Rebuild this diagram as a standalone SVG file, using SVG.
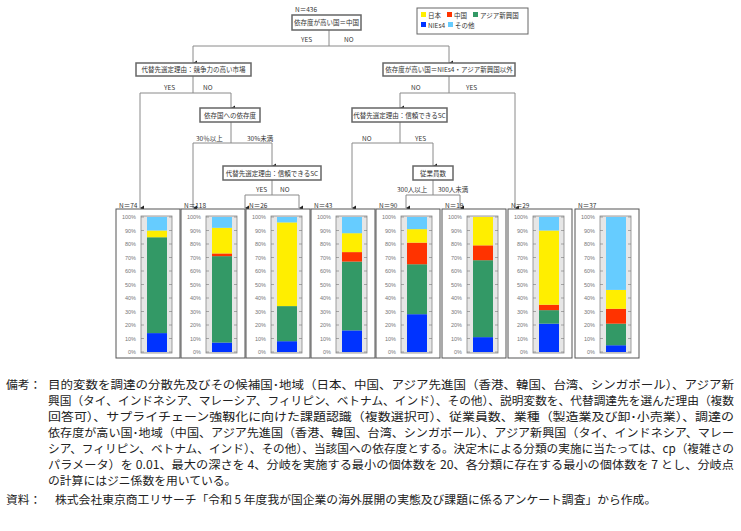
<svg xmlns="http://www.w3.org/2000/svg" xmlns:xlink="http://www.w3.org/1999/xlink" width="741" height="531" viewBox="0 0 741 531">
<style>
.t{font-family:"Noto Sans CJK JP","Liberation Sans",sans-serif;fill:#333}
.s{font-size:6.5px}
.box{fill:#fff;stroke:#666;stroke-width:1.5}
.ln{fill:none;stroke:#8a8a8a;stroke-width:1}
.pan{fill:#fff;stroke:#555;stroke-width:1}
.ax{font-family:"Liberation Sans",sans-serif;font-size:5.5px;fill:#777;text-anchor:end}
.y{fill:#ffee00}.r{fill:#ff3300}.g{fill:#339966}.b{fill:#0033ff}.l{fill:#66ccff}
.note{font-family:"Noto Sans CJK JP",sans-serif;font-size:11.8px;fill:#222}
</style>
<defs>
<marker id="ar" markerWidth="6" markerHeight="6" refX="3" refY="5" orient="auto" markerUnits="userSpaceOnUse"><path d="M0.5,1 L5.5,1 L3,5 Z" fill="#222"/></marker>
<g id="axis">
<rect x="0" y="0" width="64" height="149" class="pan"/>
<rect x="25" y="7" width="31" height="137" fill="#e6e6e6" stroke="#888" stroke-width="0.8"/>
<path d="M25,8 h3 M25,21.5 h3 M25,35 h3 M25,48.5 h3 M25,62 h3 M25,75.5 h3 M25,89 h3 M25,102.5 h3 M25,116 h3 M25,129.5 h3 M25,143 h3 M53,8 h3 M53,21.5 h3 M53,35 h3 M53,48.5 h3 M53,62 h3 M53,75.5 h3 M53,89 h3 M53,102.5 h3 M53,116 h3 M53,129.5 h3 M53,143 h3" stroke="#777" stroke-width="0.6"/>
<text class="ax" x="20" y="10">100%</text><text class="ax" x="20" y="23.5">90%</text><text class="ax" x="20" y="37">80%</text><text class="ax" x="20" y="50.5">70%</text><text class="ax" x="20" y="64">60%</text><text class="ax" x="20" y="77.5">50%</text><text class="ax" x="20" y="91">40%</text><text class="ax" x="20" y="104.5">30%</text><text class="ax" x="20" y="118">20%</text><text class="ax" x="20" y="131.5">10%</text><text class="ax" x="20" y="145">0%</text>
</g>
</defs>
<rect width="741" height="531" fill="#fff"/>

<g id="legend">
<rect x="417" y="8" width="111" height="26" fill="#fff" stroke="#666" stroke-width="1"/>
<rect x="421" y="12" width="5" height="5" class="y"/><text class="t s" x="428" y="18">日本</text>
<rect x="447" y="12" width="5" height="5" class="r"/><text class="t s" x="454" y="18">中国</text>
<rect x="473" y="12" width="5" height="5" class="g"/><text class="t s" x="480" y="18">アジア新興国</text>
<rect x="421" y="22" width="5" height="5" class="b"/><text class="t s" x="428" y="28">NIEs4</text>
<rect x="448" y="22" width="5" height="5" class="l"/><text class="t s" x="455" y="28">その他</text>
</g>

<g id="connectors">
<path class="ln" d="M329,30 V46 M193,46 H449"/>
<path class="ln" d="M193,46 V63" marker-end="url(#ar)"/>
<path class="ln" d="M449,46 V63" marker-end="url(#ar)"/>
<path class="ln" d="M193,76 V93 M140,93 H231"/>
<path class="ln" d="M140,93 V208" marker-end="url(#ar)"/>
<path class="ln" d="M231,93 V108" marker-end="url(#ar)"/>
<path class="ln" d="M231,122 V143 M193,143 H272"/>
<path class="ln" d="M193,143 V208" marker-end="url(#ar)"/>
<path class="ln" d="M272,143 V166" marker-end="url(#ar)"/>
<path class="ln" d="M272,180 V195 M245,195 H299"/>
<path class="ln" d="M245,195 V208" marker-end="url(#ar)"/>
<path class="ln" d="M299,195 V208" marker-end="url(#ar)"/>
<path class="ln" d="M449,76 V93 M400,93 H515"/>
<path class="ln" d="M515,93 V208" marker-end="url(#ar)"/>
<path class="ln" d="M400,93 V108" marker-end="url(#ar)"/>
<path class="ln" d="M400,122 V143 M352,143 H433"/>
<path class="ln" d="M352,143 V208" marker-end="url(#ar)"/>
<path class="ln" d="M433,143 V166" marker-end="url(#ar)"/>
<path class="ln" d="M433,180 V195 M406,195 H460"/>
<path class="ln" d="M406,195 V208" marker-end="url(#ar)"/>
<path class="ln" d="M460,195 V208" marker-end="url(#ar)"/>
<g class="t s">
<text x="301" y="42">YES</text><text x="344" y="42">NO</text>
<text x="164" y="90">YES</text><text x="203" y="90">NO</text>
<text x="196" y="141">30％以上</text><text x="247" y="141">30%未満</text>
<text x="256" y="192">YES</text><text x="280" y="192">NO</text>
<text x="411" y="90">NO</text><text x="466" y="90">YES</text>
<text x="362" y="141">NO</text><text x="415" y="141">YES</text>
<text x="397" y="192">300人以上</text><text x="438" y="192">300人未満</text>
</g>
</g>

<g id="n-root"><text class="t s" x="295" y="12">N＝436</text><rect class="box" x="292" y="15" width="69" height="15"/><text class="t s" x="326.5" y="25" text-anchor="middle">依存度が高い国＝中国</text></g>
<g id="n-left"><rect class="box" x="136" y="63" width="115" height="13"/><text class="t s" x="193.5" y="72" text-anchor="middle">代替先選定理由：競争力の高い市場</text></g>
<g id="n-right"><rect class="box" x="383" y="63" width="132" height="13"/><text class="t s" x="449" y="72" text-anchor="middle">依存度が高い国＝NIEs4・アジア新興国以外</text></g>
<g id="n-dep"><rect class="box" x="200" y="108" width="60" height="14"/><text class="t s" x="230" y="117.5" text-anchor="middle">依存国への依存度</text></g>
<g id="n-sc1"><rect class="box" x="223" y="166" width="98" height="14"/><text class="t s" x="272" y="175.5" text-anchor="middle">代替先選定理由：信頼できるSC</text></g>
<g id="n-sc2"><rect class="box" x="352" y="108" width="95" height="14"/><text class="t s" x="399.5" y="117.5" text-anchor="middle">代替先選定理由：信頼できるSC</text></g>
<g id="n-emp"><rect class="box" x="413" y="166" width="40" height="14"/><text class="t s" x="433" y="175.5" text-anchor="middle">従業員数</text></g>

<g id="p1" transform="translate(116,209)"><use xlink:href="#axis"/><text class="t s" x="3" y="-1">N＝74</text>
<rect x="31" y="124.1" width="20" height="18.9" class="b"/><rect x="31" y="28.25" width="20" height="95.85" class="g"/><rect x="31" y="21.5" width="20" height="6.75" class="y"/><rect x="31" y="8" width="20" height="13.5" class="l"/></g>
<g id="p2" transform="translate(181,209)"><use xlink:href="#axis"/><text class="t s" x="3" y="-1">N＝118</text>
<rect x="31" y="133.55" width="20" height="9.45" class="b"/><rect x="31" y="47.15" width="20" height="86.4" class="g"/><rect x="31" y="44.45" width="20" height="2.7" class="r"/><rect x="31" y="18.8" width="20" height="25.65" class="y"/><rect x="31" y="8" width="20" height="10.8" class="l"/></g>
<g id="p3" transform="translate(246,209)"><use xlink:href="#axis"/><text class="t s" x="3" y="-1">N＝26</text>
<rect x="31" y="132.2" width="20" height="10.8" class="b"/><rect x="31" y="97.1" width="20" height="35.1" class="g"/><rect x="31" y="13.4" width="20" height="83.7" class="y"/><rect x="31" y="8" width="20" height="5.4" class="l"/></g>
<g id="p4" transform="translate(311,209)"><use xlink:href="#axis"/><text class="t s" x="3" y="-1">N＝43</text>
<rect x="31" y="121.4" width="20" height="21.6" class="b"/><rect x="31" y="52.55" width="20" height="68.85" class="g"/><rect x="31" y="43.1" width="20" height="9.45" class="r"/><rect x="31" y="24.2" width="20" height="18.9" class="y"/><rect x="31" y="8" width="20" height="16.2" class="l"/></g>
<g id="p5" transform="translate(376,209)"><use xlink:href="#axis"/><text class="t s" x="3" y="-1">N＝90</text>
<rect x="31" y="105.2" width="20" height="37.8" class="b"/><rect x="31" y="55.25" width="20" height="49.95" class="g"/><rect x="31" y="33.65" width="20" height="21.6" class="r"/><rect x="31" y="20.15" width="20" height="13.5" class="y"/><rect x="31" y="8" width="20" height="12.15" class="l"/></g>
<g id="p6" transform="translate(442,209)"><use xlink:href="#axis"/><text class="t s" x="3" y="-1">N＝19</text>
<rect x="31" y="128.15" width="20" height="14.85" class="b"/><rect x="31" y="51.2" width="20" height="76.95" class="g"/><rect x="31" y="36.35" width="20" height="14.85" class="r"/><rect x="31" y="8" width="20" height="28.35" class="y"/></g>
<g id="p7" transform="translate(508,209)"><use xlink:href="#axis"/><text class="t s" x="3" y="-1">N＝29</text>
<rect x="31" y="114.65" width="20" height="28.35" class="b"/><rect x="31" y="101.15" width="20" height="13.5" class="g"/><rect x="31" y="95.75" width="20" height="5.4" class="r"/><rect x="31" y="21.5" width="20" height="74.25" class="y"/><rect x="31" y="8" width="20" height="13.5" class="l"/></g>
<g id="p8" transform="translate(575,209)"><use xlink:href="#axis"/><text class="t s" x="3" y="-1">N＝37</text>
<rect x="31" y="136.25" width="20" height="6.75" class="b"/><rect x="31" y="114.65" width="20" height="21.6" class="g"/><rect x="31" y="99.8" width="20" height="14.85" class="r"/><rect x="31" y="80.9" width="20" height="18.9" class="y"/><rect x="31" y="8" width="20" height="72.9" class="l"/></g>

<g id="notes" class="note">
<text x="6" y="389">備考：</text>
<text x="48" y="389" textLength="686" lengthAdjust="spacingAndGlyphs">目的変数を調達の分散先及びその候補国･地域（日本、中国、アジア先進国（香港、韓国、台湾、シンガポール）、アジア新</text>
<text x="48" y="405" textLength="686" lengthAdjust="spacingAndGlyphs">興国（タイ、インドネシア、マレーシア、フィリピン、ベトナム、インド）、その他）、説明変数を、代替調達先を選んだ理由（複数</text>
<text x="48" y="421" textLength="686" lengthAdjust="spacingAndGlyphs">回答可）、サプライチェーン強靱化に向けた課題認識（複数選択可）、従業員数、業種（製造業及び卸･小売業）、調達の</text>
<text x="48" y="437" textLength="686" lengthAdjust="spacingAndGlyphs">依存度が高い国･地域（中国、アジア先進国（香港、韓国、台湾、シンガポール）、アジア新興国（タイ、インドネシア、マレー</text>
<text x="48" y="453" textLength="686" lengthAdjust="spacingAndGlyphs">シア、フィリピン、ベトナム、インド）、その他）、当該国への依存度とする。決定木による分類の実施に当たっては、cp（複雑さの</text>
<text x="48" y="469" textLength="686" lengthAdjust="spacingAndGlyphs">パラメータ）を 0.01、最大の深さを 4、分岐を実施する最小の個体数を 20、各分類に存在する最小の個体数を 7 とし、分岐点</text>
<text x="48" y="485">の計算にはジニ係数を用いている。</text>
<text x="6" y="504">資料：</text>
<text x="55" y="504">株式会社東京商工リサーチ「令和 5 年度我が国企業の海外展開の実態及び課題に係るアンケート調査」から作成。</text>
</g>
</svg>
